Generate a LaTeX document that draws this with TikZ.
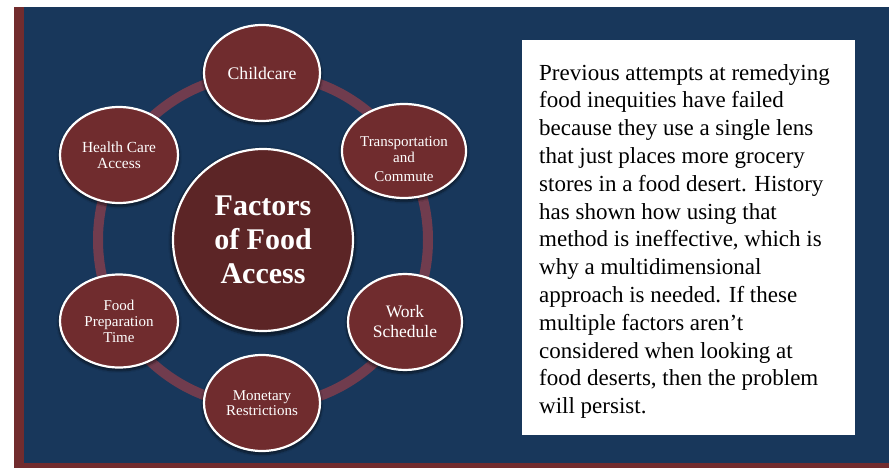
\documentclass[tikz,border=0pt]{standalone}
\usepackage{fontspec}
\setmainfont{Liberation Serif}
\usetikzlibrary{shadows.blur,shapes.geometric}
\definecolor{panelblue}{RGB}{24,55,91}
\definecolor{borderred}{RGB}{114,44,46}
\definecolor{circred}{RGB}{112,44,46}
\definecolor{centred}{RGB}{92,37,38}
\definecolor{ringcol}{RGB}{112,60,78}
\tikzset{
  factor/.style={ellipse, draw=white, line width=2.2pt, fill=circred, text=white,
     minimum width=116pt, minimum height=96pt, align=center, inner sep=0pt,
     font=\fontsize{15}{16}\selectfont,
     blur shadow={shadow blur steps=8, shadow xshift=0pt, shadow yshift=-2pt, shadow opacity=50, shadow scale=1.03}},
  hub/.style={ellipse, draw=white, line width=2.2pt, fill=centred, text=white,
     minimum width=180pt, minimum height=182pt, align=center, inner sep=0pt,
     font=\bfseries\fontsize{30}{34}\selectfont,
     blur shadow={shadow blur steps=8, shadow xshift=0pt, shadow yshift=-2pt, shadow opacity=50, shadow scale=1.03}},
  textbox/.style={fill=white, draw=none}
}
\begin{document}
\begin{tikzpicture}[x=1pt,y=-1pt]
\useasboundingbox (0,0) rectangle (889,468);
\fill[white] (0,0) rectangle (889,468);
\fill[borderred] (14,7) rectangle (889,468);
\fill[panelblue] (24,7) rectangle (889,463);
% ring
\draw[ringcol, line width=10pt] (263,240) ellipse [x radius=165, y radius=166];
% nodes
\node[hub] (c) at (263,240) {Factors\\of Food\\Access};
\node[factor, font=\fontsize{17.7}{19}\selectfont] (a) at (262,73) {Childcare};
\node[factor, minimum width=116pt, minimum height=94pt, font=\fontsize{15}{18}\selectfont] (b) at (404,151)
  {\raisebox{-13pt}[0pt][0pt]{\begin{tabular}{@{}c@{}}Transportation\\[-1pt]and\\[1pt]Commute\end{tabular}}};
\node[factor, minimum width=114pt, minimum height=96pt, font=\fontsize{17.5}{20}\selectfont] (d) at (405,322) {Work\\Schedule};
\node[factor, font=\fontsize{15}{15.5}\selectfont] (e) at (262,403) {Monetary\\Restrictions};
\node[factor, minimum width=118pt, minimum height=93pt, font=\fontsize{15}{16}\selectfont] (f) at (119,321) {Food\\Preparation\\Time};
\node[factor, minimum width=118pt, minimum height=96pt, font=\fontsize{15.4}{16}\selectfont] (g) at (119,155) {Health Care\\Access};
% text box
\fill[textbox] (522,40) rectangle (855,435);
\node[anchor=north west, align=left, inner sep=0pt, font=\fontsize{23}{27.8}\selectfont] (t) at (539,64) {Previous attempts at remedying\\
food inequities have failed\\
because they use a single lens\\
that just places more grocery\\
stores in a food desert. History\\
has shown how using that\\
method is ineffective, which is\\
why a multidimensional\\
approach is needed. If these\\
multiple factors aren’t\\
considered when looking at\\
food deserts, then the problem\\
will persist.};
\end{tikzpicture}
\end{document}
